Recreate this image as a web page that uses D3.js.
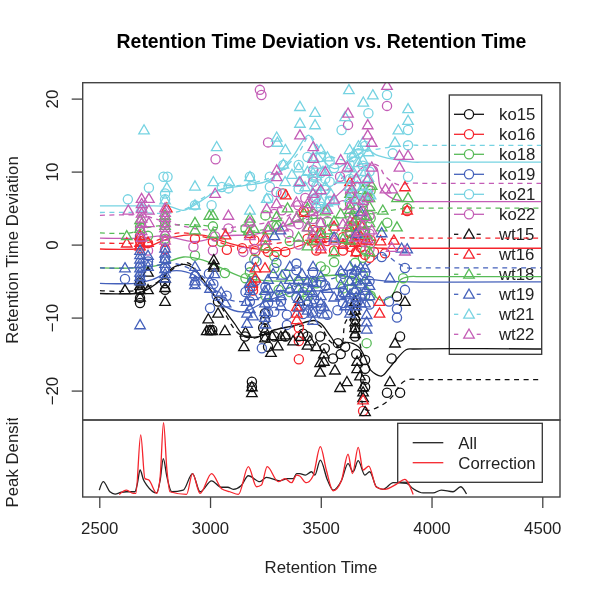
<!DOCTYPE html>
<html>
<head>
<meta charset="utf-8">
<script src="https://cdn.jsdelivr.net/npm/d3@7"></script>
<style>
  html, body { margin: 0; background: #fff; }
  svg { filter: blur(0.35px); }
  text { font-family: "Liberation Sans", Arial, sans-serif; fill: #222; }
</style>
</head>
<body>
<svg id="chart" width="600" height="600"></svg>
<script>
// series names and the tick labels
const seriesNames = ['ko15', 'ko16', 'ko18', 'ko19', 'ko21', 'ko22', 'wt15', 'wt16', 'wt18', 'wt19', 'wt21', 'wt22'];
const xTicks = [2500, 3000, 3500, 4000, 4500];
const yTicks = [-20, -10, 0, 10, 20];

// peak points, [retention time, deviation]
const ko15Points = [[2684,-5.3],[2684,-6.2],[2684,-7.3],[2684,-8],[2797,-5.3],[2797,-6.2],[3036,-7.8],[3000,-11.7],[3010,-11.7],[3158,-12.6],[3189,-18.8],[3189,-19.5],[3248,-9.4],[3248,-10.3],[3248,-12.6],[3240,-11.4],[3262,-14],[3290,-12.6],[3340,-12.6],[3420,-12.2],[3440,-12.6],[3497,-12.6],[3518,-14.2],[3555,-15.6],[3577,-13.5],[3590,-15],[3610,-14],[3655,-9],[3655,-10.3],[3655,-11.5],[3655,-12.6],[3660,-15],[3700,-15.8],[3700,-17],[3700,-18.5],[3700,-19.5],[3820,-15.6],[3799,-20.3],[3858,-20.3],[3858,-12.6],[3844,-7.1]];
const ko16Points = [[3401,-15.7],[3401,-12.6],[3401,-11.4],[3401,-13.2],[3194,-5.7],[3194,-6.3],[3076,-0.7],[3262,-1],[3300,-1],[3340,-1],[3329,7],[3423,4.6],[2684,0.5],[2684,-0.5],[2684,1.2],[2720,0.2],[2797,0.4],[2797,-0.6],[2932,0.8],[3013,0.4],[3145,-0.5],[3205,-0.9],[3465,2],[3480,-0.8],[3528,0.5],[3600,1],[3632,-0.3],[3655,2.2],[3655,0.8],[3680,-0.4],[3700,-1.4],[3725,0.6],[3691,-22.8],[3890,4.6],[3740,-1],[3790,-1.2],[3632,1.6],[3660,-1],[3500,1.6],[3440,0.8],[3560,-0.8],[3600,-0.8],[3700,0.8],[3720,-1.8],[3200,0.6],[3250,-0.5]];
const ko18Points = [[2932,-1.5],[3067,-3.9],[3160,-4.6],[3190,-4.6],[3290,-3.2],[3360,-6.5],[3420,-6.5],[3480,-5.3],[3707,-13.5],[3872,-4.6],[2684,2.4],[2720,1.2],[2797,3],[2797,0.8],[3013,2.5],[3050,0.4],[3160,2.2],[3250,4],[3300,2.6],[3360,0.5],[3440,3.5],[3520,-3.5],[3590,-4.6],[3640,-5],[3655,-2.5],[3690,-4.2],[3700,-0.8],[3700,1.8],[3725,3.6],[3725,-7],[3800,3],[3890,5],[3180,-3.8],[3250,-7],[3310,-6.2],[3465,1.2],[3465,4.2],[3500,-3],[3500,3],[3560,-2.4],[3560,1],[3600,-6],[3632,1.8],[3632,5.6],[3660,-6.4],[3660,3.2],[3690,-1.8],[3690,5.8],[3725,0.2],[3725,7.4],[3200,-2],[3340,-4],[3400,-5],[3440,-7],[3290,-1.6]];
const ko19Points = [[2616,-4.7],[2720,-2.3],[2720,-2.8],[2932,-4.3],[2932,-5.3],[2995,-4],[3015,-5.4],[3000,-8.7],[3075,-7],[3030,-7],[3210,-2.3],[3234,-14.2],[3290,-9.2],[3320,-7.8],[3347,-9.6],[3347,-11],[3390,-2.6],[3390,-3.5],[3420,-9.5],[3470,-7.5],[3530,-9.6],[3575,-9],[3600,-8],[3640,-4],[3700,-3.9],[3650,-6.6],[3775,-1.7],[3808,-7.8],[3844,-8.8],[3844,-10],[3880,-3.2],[3880,-6.2],[2684,1],[2684,-3],[2684,-4.4],[2797,-2],[2797,-3.2],[3160,-6.5],[3250,-5.8],[3300,-2.5],[3520,-5.6],[3465,-3.8],[3180,-3],[3180,-6],[3180,-7.8],[3205,-5],[3262,-8],[3262,-9.4],[3390,-6],[3390,-7.2],[3440,-6],[3440,-8.2],[3465,-5],[3465,-9.2],[3500,-5.2],[3500,-8.8],[3600,-4],[3600,-6.6],[3632,-7.4],[3632,-9],[3660,-3.6],[3660,-8],[3700,-7],[3720,-5],[3720,-8.2]];
const ko21Points = [[2629,6.2],[2724,7.8],[2790,9.3],[2808,9.3],[2797,7],[2797,6.2],[2932,5.4],[3007,5.4],[3053,7.9],[3083,7.7],[3180,9.3],[3188,8],[3270,9.3],[3270,7.9],[3263,6.3],[3331,10.9],[3400,10.9],[3465,9.3],[3594,15.7],[3715,18],[3799,20.5],[3894,15.7],[3894,13.6],[3825,12.5],[3894,9.3],[3500,12],[3520,9],[3520,7.5],[3540,6],[3560,10.5],[3630,11],[3632,9],[3660,8],[3670,12.5],[3690,10.8],[3700,13.5],[3720,6.6],[3500,5.2],[3440,12],[3480,6.5],[3480,8],[3500,9.8],[3465,6.2],[3540,8.6],[3540,11.4],[3640,6.8],[3640,12],[3680,7],[3700,8.8],[3720,10],[3400,7.6],[3430,9],[3320,7]];
const ko22Points = [[3225,21.2],[3232,20.5],[3025,11.7],[3262,14],[3466,10.2],[3466,8.6],[3475,6.3],[3300,7.2],[3325,4.7],[3398,5.4],[3354,1.5],[3083,2.2],[3180,2.9],[2925,-0.3],[3023,1.1],[3623,16.4],[3799,19],[3587,9.3],[2797,-0.7],[2797,1.2],[2684,2],[2720,-0.8],[3465,3.5],[3500,1.3],[3560,2.2],[3630,1.2],[3650,4.2],[3680,3],[3715,7.5],[3720,1.5],[3400,2.8],[3400,0],[3430,6.4],[3480,5],[3480,1.8],[3530,3.2],[3600,5.4],[3600,0.2],[3632,3.8],[3632,7],[3660,1.4],[3690,5],[3690,0.4],[3720,4],[3720,-0.6],[3013,-0.8],[3150,-1],[3200,-0.6],[3290,4.2]];

const wt15Points = [[2616,-6.2],[2684,-4.9],[2684,-5.6],[2684,-6.2],[2684,-7.2],[2720,-6.2],[2720,-3.8],[2797,-4.6],[2797,-5.9],[2797,-7.8],[2992,-10.2],[3036,-9.4],[2985,-11.8],[3000,-11.8],[3010,-11.8],[3067,-11.8],[3017,-2.1],[3017,-3.1],[3017,-2.8],[3153,-14],[3160,-12],[3189,-19.5],[3189,-20.3],[3248,-11.8],[3248,-12.8],[3275,-14.8],[3280,-12.5],[3306,-13.9],[3320,-12.6],[3340,-12.4],[3375,-13.2],[3406,-7.8],[3410,-12.6],[3440,-13.8],[3451,-13.2],[3480,-14],[3497,-16.2],[3497,-17.5],[3514,-15],[3514,-16],[3564,-17.2],[3587,-19.6],[3618,-18.8],[3655,-7.8],[3655,-9],[3655,-9.8],[3655,-10.6],[3655,-11.4],[3655,-12.2],[3664,-16],[3664,-17],[3677,-18],[3691,-19.5],[3691,-20.2],[3691,-21],[3700,-22.9],[3812,-18.8],[3835,-13.5],[3880,-7.8]];
const wt16Points = [[3205,-3.2],[3248,-3.2],[3205,-4.6],[3190,-5.3],[2624,0.2],[2720,0.3],[2684,1.2],[2684,0.3],[2684,-0.2],[2805,5],[3632,8.6],[3880,7.9],[3890,4.7],[3765,-7.8],[3765,-9.4],[3691,-21.3],[3392,-8.5],[3392,-9.4],[3392,-10.3],[3342,6.8],[3423,4.4],[3500,0.8],[3632,2.4],[3655,0.3],[3680,1.2],[3705,0.6],[3770,0.5],[3830,0.6],[3250,1],[3180,1.5],[3070,1.3],[3650,3.2],[3660,-1],[3680,2.8],[3632,0.6],[3500,-0.6],[3465,0.5],[3560,2.5],[3600,0]];
const wt18Points = [[3780,4.7],[3775,2.4],[3844,2.4],[3844,6.4],[3894,6.4],[2624,1.2],[2932,3],[2932,2],[2997,4],[3013,4],[3013,1.5],[3175,1.9],[3198,2.2],[3262,2],[3300,2.4],[3392,3.7],[3444,2.4],[2684,2.2],[2684,3.4],[2797,4],[2797,2.6],[3500,1.5],[3530,2],[3590,4.2],[3620,2.4],[3640,3.6],[3660,5],[3680,4],[3700,6.6],[3720,5.2],[3720,3],[3730,8.1],[3707,1.4],[3440,-0.2],[3440,5],[3480,0.6],[3520,4.6],[3560,3.2],[3560,-1],[3600,0.8],[3632,4.8],[3632,0.6],[3632,7],[3655,2.4],[3690,7.5],[3690,2.8],[3720,6.4],[3720,-1],[3707,4],[3300,3.8],[3180,3.6],[3350,5],[3400,1],[3250,-0.2]];
const wt19Points = [[2616,-3.2],[2684,-11],[2684,-0.8],[2684,-1.4],[2684,-2],[2684,-2.6],[2684,-3.2],[2684,-3.8],[2684,-4.4],[2684,-5],[2720,-1.5],[2720,-3],[2797,-0.5],[2797,-1.2],[2797,-1.9],[2797,-2.6],[2797,-3.3],[2797,-4],[2797,-4.6],[2932,-3],[2932,-4],[2932,-5],[2932,-5.5],[3000,-5],[3000,-6],[3020,-4],[3050,-6.5],[3070,-8],[3167,-9.4],[3165,-7.8],[3167,-10.8],[3180,-5.2],[3180,-6.3],[3180,-8.8],[3194,-7],[3194,-9.8],[3250,-10.9],[3248,-6.3],[3248,-8],[3248,-9.2],[3248,-10],[3262,-7.2],[3262,-4.8],[3262,-6],[3285,-4],[3290,-7.2],[3320,-5.8],[3320,-7],[3320,-8.4],[3325,-4.2],[3360,-3],[3360,-4.8],[3360,-6],[3400,-4.8],[3400,-6],[3400,-7.4],[3400,-8.6],[3415,-4],[3440,-5],[3440,-7.8],[3440,-9],[3450,-6.3],[3465,-3],[3465,-5.2],[3465,-6.6],[3465,-8],[3465,-9.4],[3465,-10.4],[3500,-4.4],[3500,-7],[3500,-8],[3515,-9.5],[3515,-8.5],[3530,-6],[3560,-7.2],[3590,-5.5],[3590,-3.6],[3590,-7],[3610,-6.6],[3610,-8.4],[3630,-5],[3632,-3],[3632,-6.8],[3632,-8],[3632,-9.4],[3655,-3.5],[3655,-6.2],[3660,-5],[3660,-7.2],[3660,-8.4],[3680,-3.2],[3680,-5.4],[3680,-6.8],[3680,-8],[3700,-3.2],[3700,-4.8],[3700,-8],[3707,-9.6],[3707,-10.6],[3707,-11.6],[3700,-6.3],[3720,-5.6],[3720,-7],[3812,-4.6],[3775,1.6],[3865,-0.5],[3890,-0.6],[3660,1.5],[3680,4.5],[3560,1],[3290,1.2],[3318,2]];
const wt21Points = [[2702,15.7],[2805,7.8],[2691,5.1],[2797,6.1],[2932,8],[2932,5.4],[3030,13.4],[3015,8.6],[3087,8.6],[3180,9.3],[3301,14.7],[3304,14],[3406,18.9],[3406,16.6],[3474,18.1],[3474,16.4],[3331,11],[3339,8.6],[3429,7.9],[3256,6.3],[3180,4.7],[3627,21.2],[3692,19.5],[3735,20.5],[3610,17.5],[3850,15.7],[3835,14],[3894,18.6],[3894,17],[3480,11],[3500,13],[3510,10],[3520,8],[3530,12],[3545,7],[3560,6],[3630,10.5],[3650,12.5],[3665,8],[3670,11.2],[3690,14],[3700,10],[3715,12.7],[3725,6.8],[3500,6],[3520,5],[3480,8],[3480,9.4],[3480,5.6],[3500,7.5],[3465,12],[3465,7],[3465,9.8],[3530,10],[3530,5.8],[3590,9],[3630,13],[3630,8],[3630,6.4],[3650,7.2],[3650,9.8],[3670,13.5],[3670,6],[3690,8],[3690,11.6],[3700,7],[3715,9.2],[3440,10],[3400,8.5],[3400,10.5],[3370,9.6],[3340,13]];
const wt22Points = [[2631,4.7],[2691,6.3],[2724,6.3],[2691,5.6],[2691,4.9],[2691,4.3],[2691,3.6],[2691,2.9],[2691,1.9],[2691,1],[2724,4.7],[2724,3],[2797,5],[2797,4.4],[2797,3.7],[2797,3],[2797,2.3],[2797,1.6],[2797,0.6],[3023,7],[3083,4],[3180,3.1],[3180,1.2],[3250,0.6],[3256,4.9],[3263,2.4],[3300,5.6],[3301,10.2],[3301,9.3],[3330,2.4],[3358,3.1],[3390,5.8],[3390,3.6],[3406,15],[3406,8.6],[3440,2.4],[3440,5.6],[3465,7],[3465,1.4],[3466,13.4],[3466,11.8],[3500,3],[3500,7.5],[3520,10],[3530,4.8],[3560,6.2],[3560,0.6],[3600,2.8],[3623,18],[3632,5.4],[3632,3.2],[3655,6.2],[3655,1],[3690,6],[3690,4.6],[3690,2.6],[3712,16.4],[3712,15],[3712,9],[3712,6.4],[3712,0.8],[3730,14],[3730,2],[3590,11.6],[3730,10.6],[3620,10.6],[3855,10.6],[3855,12.2],[3894,12.2],[3792,7.6],[3822,7.6],[3660,9],[3640,7.6],[3820,-0.4],[3880,-0.9],[3799,21.8],[3700,3.8],[3680,1.8],[3500,-0.2],[3465,4.5]];

// retention time correction curves, [retention time, deviation]
const ko15Line = [[2503,-6.7],[2660,-6.7],[2700,-6.4],[2760,-5.3],[2830,-3.2],[2885,-2.7],[2925,-3.2],[2990,-5.7],[3050,-8.3],[3110,-10.8],[3155,-12.5],[3220,-12.6],[3290,-11.7],[3380,-11.1],[3470,-10.4],[3500,-10.8],[3545,-12.6],[3577,-13.8],[3620,-13.4],[3670,-14],[3700,-15.5],[3725,-17.2],[3775,-18],[3810,-16.9],[3885,-14.4],[3920,-14.3],[4495,-14.3]];
const ko16Line = [[2503,-0.6],[2660,-0.6],[2720,-0.3],[2830,1],[2965,1.3],[3085,0.2],[3190,-0.5],[3330,-0.8],[3470,0.4],[3600,0.2],[3680,-0.2],[3780,-0.5],[3900,-0.5],[4495,-0.5]];
const ko18Line = [[2503,-3.2],[2660,-3.2],[2770,-2.8],[2880,-1.7],[2965,-2.1],[3050,-3.2],[3160,-4.6],[3300,-5],[3420,-4.8],[3560,-4.2],[3680,-5],[3770,-7.6],[3820,-7],[3860,-4.8],[3900,-4.4],[3960,-4.4],[4495,-4.4]];
const ko19Line = [[2503,-5.3],[2660,-5.3],[2740,-4.8],[2830,-3.6],[2930,-4.2],[3000,-6.3],[3070,-8.5],[3150,-9.2],[3250,-7.8],[3380,-6.5],[3500,-6.3],[3600,-5.8],[3700,-4.8],[3800,-5],[3900,-5.1],[4495,-5.1]];
const ko21Line = [[2503,5.3],[2700,5.3],[2820,5.2],[2880,4.7],[2965,6.1],[3040,7.5],[3160,8.1],[3265,8.8],[3370,11.9],[3445,15],[3490,12.4],[3560,10.4],[3650,12],[3710,13],[3750,12.3],[3825,11.7],[3915,11.3],[3980,11.3],[4495,11.3]];
const ko22Line = [[2503,0.9],[2690,0.9],[2790,1.2],[2930,0.4],[3060,1.2],[3200,1.4],[3340,2.6],[3480,4.4],[3600,7.5],[3700,10.8],[3750,10.6],[3770,7.8],[3825,6.3],[3895,5.9],[3960,5.9],[4495,5.9]];

const wt15Line = [[2503,-6.3],[2660,-6.3],[2760,-5.2],[2840,-3.2],[2900,-2.5],[2960,-4.6],[3040,-8],[3130,-12.2],[3200,-12.8],[3300,-11.6],[3400,-11.2],[3490,-11],[3540,-13.2],[3590,-14],[3610,-10.7],[3632,-9.9],[3680,-14],[3700,-22.6],[3775,-22],[3820,-20.9],[3865,-19],[3895,-18.5],[3960,-18.5],[4495,-18.5]];
const wt16Line = [[2503,0.2],[2660,0.2],[2740,0.4],[2860,1.6],[2980,1],[3100,-0.2],[3240,0],[3400,0.5],[3550,0.8],[3700,0.5],[3850,0.9],[3950,0.9],[4495,0.9]];
const wt18Line = [[2503,1.6],[2640,1.6],[2710,2.3],[2840,2.7],[2980,2.6],[3120,1.8],[3280,2.2],[3450,3.5],[3620,3.8],[3760,4.4],[3890,5],[3960,5],[4495,5]];
const wt19Line = [[2503,-3.2],[2640,-3.2],[2730,-3],[2840,-2.6],[2960,-4.2],[3060,-7.2],[3150,-7.8],[3290,-6.6],[3420,-5.4],[3560,-4.6],[3700,-3],[3780,-1.4],[3850,-2.6],[3890,-3.2],[3960,-3.2],[4495,-3.2]];
const wt21Line = [[2503,4.4],[2680,4.4],[2820,4.3],[2890,4.9],[2980,6.6],[3080,7.8],[3190,8.4],[3300,9.6],[3400,12.6],[3450,14.9],[3500,13],[3600,11.6],[3700,12.7],[3800,13.3],[3900,13.6],[3960,13.6],[4495,13.6]];
const wt22Line = [[2503,4],[2690,4],[2770,3.4],[2880,2.5],[3000,2],[3130,2.5],[3280,3.2],[3420,5],[3560,8.2],[3680,11],[3760,10.8],[3790,9.4],[3850,8.2],[3895,8.4],[3960,8.4],[4495,8.4]];

// peak density, share of the tallest peak
const allDensity = [[2500,0.06],[2518,0.177],[2548,0.037],[2571,0.005],[2600,0.03],[2623,0.037],[2661,0.037],[2672,0.15],[2684,0.34],[2700,0.2],[2714,0.13],[2759,0.02],[2775,0.2],[2789,0.5],[2805,0.25],[2827,0.037],[2879,0.06],[2921,0.29],[2955,0.037],[3007,0.19],[3050,0.1],[3080,0.1],[3105,0.07],[3140,0.12],[3173,0.26],[3225,0.177],[3255,0.237],[3316,0.19],[3350,0.22],[3376,0.22],[3391,0.29],[3405,0.29],[3430,0.27],[3458,0.316],[3473,0.27],[3498,0.479],[3530,0.2],[3556,0.06],[3593,0.19],[3623,0.43],[3646,0.316],[3669,0.47],[3699,0.27],[3721,0.316],[3751,0.107],[3781,0.07],[3827,0.163],[3887,0.153],[3917,0.08],[3962,0.02],[4007,0.02],[4044,0.06],[4097,0.037],[4132,0.107],[4158,0.005]];
const correctionDensity = [[2590,0],[2623,0.06],[2653,0.014],[2665,0.014],[2687,0.83],[2706,0.22],[2724,0.2],[2759,0.014],[2775,0.25],[2790,1],[2805,0.35],[2819,0.037],[2894,0],[2921,0.29],[2955,0.014],[3007,0.29],[3052,0.08],[3090,0.037],[3128,0],[3173,0.386],[3210,0.107],[3232,0.13],[3258,0.386],[3308,0.177],[3338,0.22],[3368,0.163],[3391,0.27],[3405,0.256],[3435,0.163],[3465,0.256],[3498,0.665],[3525,0.34],[3556,0.05],[3593,0.19],[3623,0.56],[3643,0.29],[3669,0.656],[3691,0.34],[3717,0.395],[3751,0.1],[3789,0.07],[3842,0.144],[3879,0.21],[3917,0]];

const allPoints = [ko15Points, ko16Points, ko18Points, ko19Points, ko21Points, ko22Points, wt15Points, wt16Points, wt18Points, wt19Points, wt21Points, wt22Points];
const allLines = [ko15Line, ko16Line, ko18Line, ko19Line, ko21Line, ko22Line, wt15Line, wt16Line, wt18Line, wt19Line, wt21Line, wt22Line];

const colors = ['#111111', '#f5252d', '#58bb58', '#4561bb', '#76d3e2', '#c45db6'];
const colorOf = i => colors[i % 6];
const isDashed = i => i >= 6;
const dashes = '5 4.5';
const labelSize = 16.8;
const strokeW = 1.3;

const svg = d3.select('#chart');

// panel edges
const boxLeft = 82.7, boxRight = 560, boxTop = 82.7, boxSplit = 420, boxBottom = 497;

const xScale = d3.scaleLinear().domain([2425.1, 4580]).range([boxLeft, boxRight]);
const yScale = d3.scaleLinear().domain([-24.03, 22.18]).range([boxSplit, boxTop]);
const yDensity = d3.scaleLinear().domain([0, 1]).range([494.4, 422.7]);

svg.append('clipPath').attr('id', 'clip-top')
  .append('rect').attr('x', boxLeft).attr('y', boxTop).attr('width', boxRight - boxLeft).attr('height', boxSplit - boxTop);
svg.append('clipPath').attr('id', 'clip-bottom')
  .append('rect').attr('x', boxLeft).attr('y', boxSplit).attr('width', boxRight - boxLeft).attr('height', boxBottom - boxSplit);
svg.append('clipPath').attr('id', 'clip-label')
  .append('rect').attr('x', 0).attr('y', 418).attr('width', 40).attr('height', 120);

const triangle = d3.symbol().type(d3.symbolTriangle).size(48);

function drawMarker(g, i, px, py) {
  if (isDashed(i)) {
    g.append('path')
      .attr('d', triangle())
      .attr('transform', `translate(${px},${py + 0.8})`)
      .attr('fill', 'none').attr('stroke', colorOf(i)).attr('stroke-width', strokeW);
  } else {
    g.append('circle')
      .attr('cx', px).attr('cy', py).attr('r', 4.6)
      .attr('fill', 'none').attr('stroke', colorOf(i)).attr('stroke-width', strokeW);
  }
}

// title and axis labels
svg.append('text').attr('x', 321.5).attr('y', 47.5).attr('text-anchor', 'middle')
  .attr('font-size', 19.4).attr('font-weight', 'bold').style('fill', '#000')
  .text('Retention Time Deviation vs. Retention Time');
svg.append('text').attr('x', 321).attr('y', 573).attr('text-anchor', 'middle')
  .attr('font-size', labelSize).text('Retention Time');
svg.append('text').attr('transform', 'translate(18,250) rotate(-90)').attr('text-anchor', 'middle')
  .attr('font-size', labelSize).text('Retention Time Deviation');
svg.append('g').attr('clip-path', 'url(#clip-label)')
  .append('text').attr('transform', 'translate(18,458) rotate(-90)').attr('text-anchor', 'middle')
  .attr('font-size', labelSize).text('Peak Density');

// deviation legend goes under the curves
const legendTop = svg.append('g');
legendTop.append('rect').attr('x', 449.3).attr('y', 95).attr('width', 92.4).attr('height', 259.3)
  .attr('fill', 'none').attr('stroke', '#333').attr('stroke-width', 1.3);
seriesNames.forEach((name, i) => {
  const rowY = 114.3 + i * 20;
  const segments = isDashed(i) ? [[454, 458.3], [476.7, 480.7]] : [[454, 464], [474, 484]];
  segments.forEach(s => {
    legendTop.append('line').attr('x1', s[0]).attr('x2', s[1]).attr('y1', rowY).attr('y2', rowY)
      .attr('stroke', colorOf(i)).attr('stroke-width', strokeW);
  });
  drawMarker(legendTop, i, 469, rowY);
  legendTop.append('text').attr('x', 499).attr('y', rowY + 6).attr('font-size', labelSize).text(name);
});

// density legend
const legendBottom = svg.append('g');
legendBottom.append('rect').attr('x', 397.7).attr('y', 423.3).attr('width', 144.6).attr('height', 59)
  .attr('fill', 'none').attr('stroke', '#333').attr('stroke-width', 1.3);
[['All', '#222'], ['Correction', '#f5252d']].forEach((d, i) => {
  const rowY = 442.7 + i * 20;
  legendBottom.append('line').attr('x1', 412.7).attr('x2', 443.3).attr('y1', rowY).attr('y2', rowY)
    .attr('stroke', d[1]).attr('stroke-width', strokeW);
  legendBottom.append('text').attr('x', 458.3).attr('y', rowY + 6).attr('font-size', labelSize).text(d[0]);
});

// curves then points, clipped to the upper panel
const upper = svg.append('g').attr('clip-path', 'url(#clip-top)');
const devLine = d3.line().x(d => xScale(d[0])).y(d => yScale(d[1])).curve(d3.curveCatmullRom.alpha(0.5));

allLines.forEach((line, i) => {
  upper.append('path').datum(line)
    .attr('d', devLine)
    .attr('fill', 'none')
    .attr('stroke', colorOf(i))
    .attr('stroke-width', strokeW)
    .attr('stroke-dasharray', isDashed(i) ? dashes : null);
});
allPoints.forEach((points, i) => {
  points.forEach(p => drawMarker(upper, i, xScale(p[0]), yScale(p[1])));
});

// density curves
const lower = svg.append('g').attr('clip-path', 'url(#clip-bottom)');
const densityLine = d3.line().x(d => xScale(d[0])).y(d => yDensity(d[1])).curve(d3.curveMonotoneX);
lower.append('path').datum(allDensity).attr('d', densityLine)
  .attr('fill', 'none').attr('stroke', '#222').attr('stroke-width', strokeW);
lower.append('path').datum(correctionDensity).attr('d', densityLine)
  .attr('fill', 'none').attr('stroke', '#f5252d').attr('stroke-width', strokeW);

// panel frames
[[boxTop, boxSplit], [boxSplit, boxBottom]].forEach(b => {
  svg.append('rect').attr('x', boxLeft).attr('y', b[0]).attr('width', boxRight - boxLeft).attr('height', b[1] - b[0])
    .attr('fill', 'none').attr('stroke', '#444').attr('stroke-width', 1.4);
});

// axes
const xAxis = svg.append('g').attr('transform', `translate(0,${boxBottom})`)
  .call(d3.axisBottom(xScale).tickValues(xTicks).tickFormat(d3.format('d')).tickSize(11).tickPadding(14));
const yAxis = svg.append('g').attr('transform', `translate(${boxLeft},0)`)
  .call(d3.axisLeft(yScale).tickValues(yTicks).tickFormat(d => d < 0 ? '\u2212' + (-d) : d).tickSize(11));
xAxis.select('.domain').remove();
yAxis.select('.domain').remove();
xAxis.selectAll('line').attr('stroke', '#444').attr('stroke-width', 1.3);
yAxis.selectAll('line').attr('stroke', '#444').attr('stroke-width', 1.3);
xAxis.selectAll('text').attr('font-size', labelSize).attr('font-family', null);
yAxis.selectAll('text').attr('font-size', labelSize).attr('font-family', null)
  .attr('text-anchor', 'middle').attr('dy', null)
  .attr('x', null).attr('y', null)
  .attr('transform', 'translate(-25,0) rotate(-90)');
</script>
</body>
</html>
